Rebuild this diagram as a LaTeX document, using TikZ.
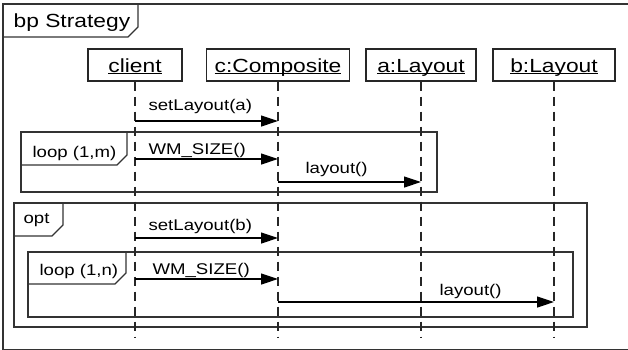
\documentclass[tikz,border=0pt]{standalone}
\usepackage{fontspec}
\setmainfont{Liberation Sans}[FakeStretch=1.2]
\usetikzlibrary{arrows.meta}
% underlined object name with a fixed rule position
\newcommand{\lifename}[1]{\setbox0=\hbox{#1}\rlap{\rule[-1.6pt]{\wd0}{1pt}}\box0}

\begin{document}
\begin{tikzpicture}[x=1pt,y=-1pt,line width=1.2pt,
  head/.style={draw=black!85, line width=1.2pt, minimum height=32pt, inner sep=0pt,
    text height=14pt, text depth=0pt, font=\fontsize{19}{22}\selectfont},
  lifeline/.style={draw=black!85, dash pattern=on 9pt off 6pt, line width=1.2pt},
  msg/.style={draw=black, -{Triangle[length=17pt,width=11pt]}, line width=1.2pt},
  lbl/.style={anchor=base west, inner sep=0pt, font=\fontsize{15.5}{18}\selectfont},
  title/.style={anchor=base west, inner sep=0pt, font=\fontsize{19}{22}\selectfont},
  frm/.style={draw=black!80, line width=1.2pt},
]
\useasboundingbox (0,0) rectangle (628,349);
\clip (0,0) rectangle (628,349);

% outer diagram frame
\draw[frm] (3,4) rectangle (632,350);
\draw[frm] (138,4) -- (138,27) -- (128,37) -- (3,37);
\node[title] (frametitle) at (13,27) {bp Strategy};

% combined fragments
\draw[frm] (21,132) rectangle (437,192);
\draw[frm] (127,132) -- (127,155) -- (117,165) -- (21,165);
\node[lbl] (loopm) at (32,157) {loop (1,m)};

\draw[frm] (14,203) rectangle (587,327);
\draw[frm] (63,203) -- (63,225) -- (52,236) -- (14,236);
\node[lbl] (opt) at (23,223) {opt};

\draw[frm] (28,252) rectangle (573,317);
\draw[frm] (126,252) -- (126,273) -- (115,284) -- (28,284);
\node[lbl] (loopn) at (39,275) {loop (1,n)};

% participants
\node[head, minimum width=94pt]  (client) at (135,65) {\lifename{client}};
\node[head, minimum width=143pt] (comp)   at (278,65) {\lifename{c:Composite}};
\node[head, minimum width=110pt] (la)     at (421,65) {\lifename{a:Layout}};
\node[head, minimum width=122pt] (lb)     at (554,65) {\lifename{b:Layout}};

% lifelines
\coordinate (bottom) at (0,338);
\draw[lifeline] (client.south) -- (client.south |- bottom);
\draw[lifeline] (comp.south)   -- (comp.south |- bottom);
\draw[lifeline] (la.south)     -- (la.south |- bottom);
\draw[lifeline] (lb.south)     -- (lb.south |- bottom);

% message rows
\coordinate (r1) at (0,121);
\coordinate (r2) at (0,159);
\coordinate (r3) at (0,182);
\coordinate (r4) at (0,238);
\coordinate (r5) at (0,279);
\coordinate (r6) at (0,302);

\draw[msg] (client.south |- r1) -- (comp.south |- r1);
\node[lbl] (m1) at (148,110) {setLayout(a)};

\draw[msg] (client.south |- r2) -- (comp.south |- r2);
\node[lbl] (m2) at (148,154) {WM\_SIZE()};

\draw[msg] (comp.south |- r3) -- (la.south |- r3);
\node[lbl] (m3) at (305,173) {layout()};

\draw[msg] (client.south |- r4) -- (comp.south |- r4);
\node[lbl] (m4) at (148,230) {setLayout(b)};

\draw[msg] (client.south |- r5) -- (comp.south |- r5);
\node[lbl] (m5) at (152,274) {WM\_SIZE()};

\draw[msg] (comp.south |- r6) -- (lb.south |- r6);
\node[lbl] (m6) at (439,295) {layout()};
\end{tikzpicture}
\end{document}
